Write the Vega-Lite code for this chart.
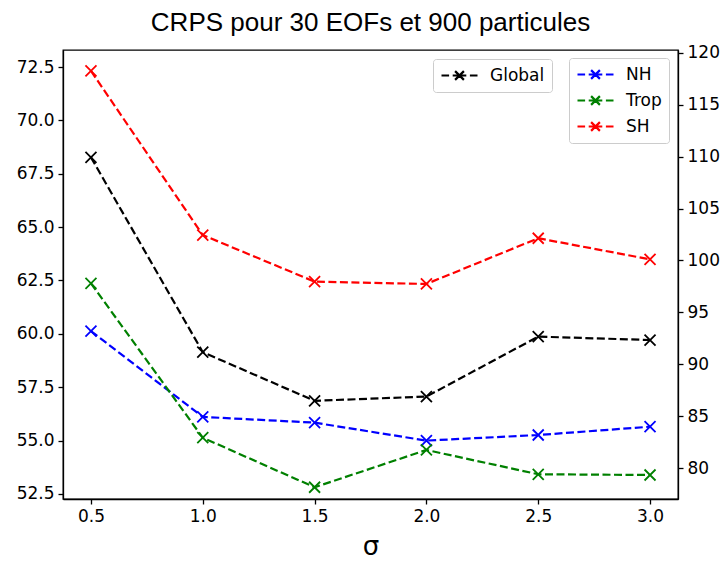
{
  "$schema": "https://vega.github.io/schema/vega-lite/v6.json",
  "width": 615,
  "height": 449,
  "autosize": "none",
  "padding": {"left": 63, "top": 50, "right": 45, "bottom": 62},
  "background": "white",
  "title": {
    "text": "CRPS pour 30 EOFs et 900 particules",
    "font": "Liberation Sans",
    "fontSize": 26,
    "fontWeight": "normal",
    "color": "black",
    "anchor": "middle",
    "offset": 8
  },
  "config": {
    "view": {"stroke": "black", "strokeWidth": 1.3},
    "axis": {
      "grid": false,
      "domainColor": "black",
      "domainWidth": 1.3,
      "tickColor": "black",
      "tickWidth": 1.3,
      "tickSize": 5,
      "labelFont": "DejaVu Sans",
      "labelFontSize": 17,
      "labelColor": "black",
      "labelPadding": 4,
      "titleColor": "black"
    },
    "legend": {
      "orient": "none",
      "title": null,
      "labelFont": "DejaVu Sans",
      "labelFontSize": 17,
      "labelColor": "black",
      "symbolType": "M-2.25,0H-1.3M-0.85,0H0.85M1.3,0H2.25M-0.55,-0.55L0.55,0.55M-0.55,0.55L0.55,-0.55",
      "symbolSize": 256,
      "symbolStrokeWidth": 2.2,
      "symbolFillColor": "transparent",
      "symbolOffset": 10,
      "labelOffset": 21,
      "padding": 7,
      "rowPadding": 7,
      "strokeColor": "#cccccc",
      "fillColor": "white",
      "cornerRadius": 3
    }
  },
  "datasets": {
    "glob": [
      {"sigma": 0.5, "region": "Global", "crps": 68.27},
      {"sigma": 1.0, "region": "Global", "crps": 59.14},
      {"sigma": 1.5, "region": "Global", "crps": 56.86},
      {"sigma": 2.0, "region": "Global", "crps": 57.06},
      {"sigma": 2.5, "region": "Global", "crps": 59.87},
      {"sigma": 3.0, "region": "Global", "crps": 59.71}
    ],
    "reg": [
      {"sigma": 0.5, "region": "NH", "crps": 93.21},
      {"sigma": 1.0, "region": "NH", "crps": 84.94},
      {"sigma": 1.5, "region": "NH", "crps": 84.39},
      {"sigma": 2.0, "region": "NH", "crps": 82.66},
      {"sigma": 2.5, "region": "NH", "crps": 83.2},
      {"sigma": 3.0, "region": "NH", "crps": 84.0},
      {"sigma": 0.5, "region": "Trop", "crps": 97.8},
      {"sigma": 1.0, "region": "Trop", "crps": 82.94},
      {"sigma": 1.5, "region": "Trop", "crps": 78.17},
      {"sigma": 2.0, "region": "Trop", "crps": 81.76},
      {"sigma": 2.5, "region": "Trop", "crps": 79.42},
      {"sigma": 3.0, "region": "Trop", "crps": 79.35},
      {"sigma": 0.5, "region": "SH", "crps": 118.24},
      {"sigma": 1.0, "region": "SH", "crps": 102.45},
      {"sigma": 1.5, "region": "SH", "crps": 97.96},
      {"sigma": 2.0, "region": "SH", "crps": 97.74},
      {"sigma": 2.5, "region": "SH", "crps": 102.14},
      {"sigma": 3.0, "region": "SH", "crps": 100.11}
    ]
  },
  "layer": [
    {
      "data": {"name": "glob"},
      "encoding": {
        "x": {
          "field": "sigma", "type": "quantitative",
          "scale": {"domain": [0.375, 3.125], "nice": false, "zero": false},
          "axis": {"values": [0.5, 1.0, 1.5, 2.0, 2.5, 3.0], "format": ".1f", "title": "σ", "titleFont": "DejaVu Sans", "titleFontSize": 26, "titleFontWeight": "normal", "titlePadding": 9}
        },
        "y": {
          "field": "crps", "type": "quantitative",
          "scale": {"domain": [52.26, 73.3], "nice": false, "zero": false},
          "axis": {"orient": "left", "values": [52.5, 55, 57.5, 60, 62.5, 65, 67.5, 70, 72.5], "format": ".1f", "title": null}
        },
        "color": {
          "field": "region", "type": "nominal",
          "scale": {"domain": ["Global"], "range": ["#000000"]},
          "legend": {"legendX": 370, "legendY": 9}
        }
      },
      "layer": [
        {"mark": {"type": "line", "strokeDash": [8, 3.5], "strokeWidth": 2.2}},
        {"mark": {"type": "point", "shape": "M-1,-1L1,1M-1,1L1,-1", "size": 121, "filled": false, "strokeWidth": 1.8, "opacity": 1}}
      ]
    },
    {
      "data": {"name": "reg"},
      "encoding": {
        "x": {
          "field": "sigma", "type": "quantitative",
          "scale": {"domain": [0.375, 3.125], "nice": false, "zero": false},
          "axis": {"values": [0.5, 1.0, 1.5, 2.0, 2.5, 3.0], "format": ".1f", "title": "σ", "titleFont": "DejaVu Sans", "titleFontSize": 26, "titleFontWeight": "normal", "titlePadding": 9}
        },
        "y": {
          "field": "crps", "type": "quantitative",
          "scale": {"domain": [77.04, 120.26], "nice": false, "zero": false},
          "axis": {"orient": "right", "values": [80, 85, 90, 95, 100, 105, 110, 115, 120], "format": "d", "title": null}
        },
        "color": {
          "field": "region", "type": "nominal",
          "scale": {"domain": ["NH", "Trop", "SH"], "range": ["#0000ff", "#008000", "#ff0000"]},
          "legend": {"legendX": 506, "legendY": 8}
        }
      },
      "layer": [
        {"mark": {"type": "line", "strokeDash": [8, 3.5], "strokeWidth": 2.2}},
        {"mark": {"type": "point", "shape": "M-1,-1L1,1M-1,1L1,-1", "size": 121, "filled": false, "strokeWidth": 1.8, "opacity": 1}}
      ]
    }
  ],
  "resolve": {"scale": {"y": "independent", "color": "independent"}}
}
